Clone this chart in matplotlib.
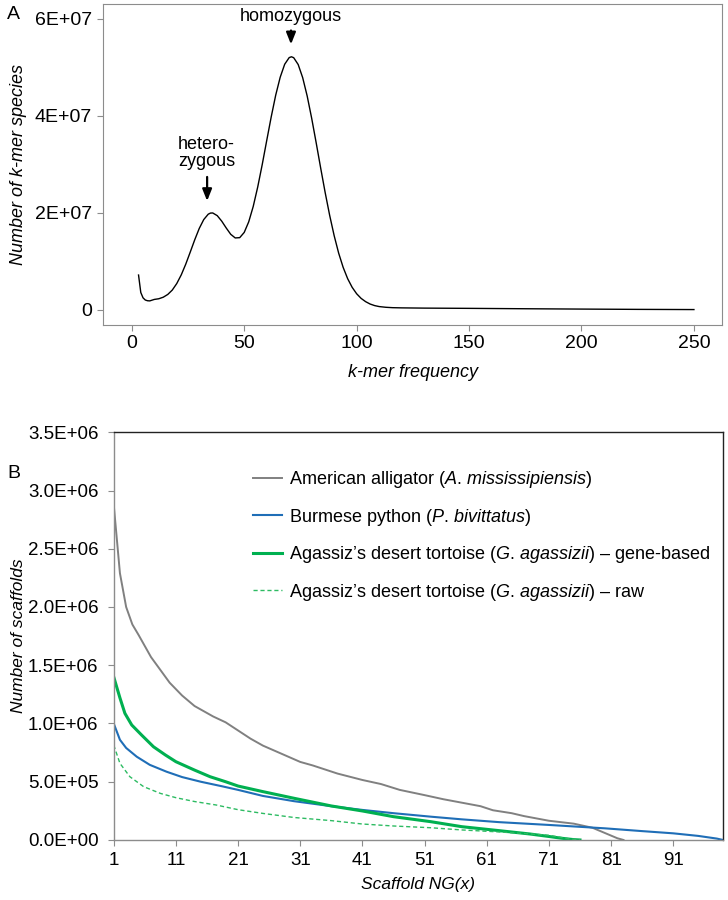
import numpy as np
import matplotlib
matplotlib.use("Agg")
import matplotlib.pyplot as plt

plt.rcParams["font.family"] = ["Liberation Sans", "DejaVu Sans"]
plt.rcParams["mathtext.fontset"] = "custom"
plt.rcParams["mathtext.rm"] = "Liberation Sans"
plt.rcParams["mathtext.it"] = "Liberation Sans:italic"

# ---- panel A: k-mer frequency spectrum ----
kmer_freq = [3, 4, 5, 6, 7, 8, 10, 12, 14, 16, 18, 20, 22, 24, 26, 28, 30, 32, 34, 35, 36,
             38, 40, 42, 44, 46, 48, 50, 52, 54, 56, 58, 60, 62, 64, 66, 68, 70, 71, 72,
             74, 76, 78, 80, 82, 84, 86, 88, 90, 92, 94, 96, 98, 100, 102, 104, 106, 108,
             110, 113, 116, 120, 130, 150, 175, 200, 225, 250]
kmer_count = [7.2e6, 3.6e6, 2.5e6, 2.05e6, 1.9e6, 1.87e6, 2.17e6, 2.31e6, 2.63e6, 3.2e6,
              4.1e6, 5.45e6, 7.24e6, 9.45e6, 11.94e6, 14.48e6, 16.81e6, 18.64e6, 19.75e6,
              19.98e6, 20.0e6, 19.45e6, 18.31e6, 16.9e6, 15.6e6, 14.85e6, 14.91e6, 15.99e6,
              18.17e6, 21.34e6, 25.35e6, 29.97e6, 34.92e6, 39.8e6, 44.29e6, 47.99e6,
              50.67e6, 52.04e6, 52.21e6, 52.02e6, 50.61e6, 47.9e6, 44.12e6, 39.53e6,
              34.48e6, 29.27e6, 24.21e6, 19.51e6, 15.32e6, 11.72e6, 8.78e6, 6.45e6, 4.67e6,
              3.34e6, 2.38e6, 1.71e6, 1.22e6, 0.9e6, 0.7e6, 0.55e6, 0.47e6, 0.43e6, 0.38e6,
              0.33e6, 0.25e6, 0.18e6, 0.12e6, 0.08e6]
a_xticks = [0, 50, 100, 150, 200, 250]
a_yticks = [0, 2e7, 4e7, 6e7]
a_yticklabels = ["0", "2E+07", "4E+07", "6E+07"]

# ---- panel B: scaffold NG(x) ----
alligator_x = [1, 2, 3, 4, 5, 7, 8.5, 10, 12, 14, 17, 19, 21, 23, 25, 28, 31, 33, 37, 41,
               44, 47, 51, 54, 57, 60, 62, 65, 67, 71, 75, 78, 80, 82, 83]
alligator_y = [2.88e6, 2.29e6, 2.0e6, 1.85e6, 1.76e6, 1.57e6, 1.46e6, 1.35e6, 1.24e6,
               1.15e6, 1.06e6, 1.01e6, 0.94e6, 0.87e6, 0.81e6, 0.74e6, 0.67e6, 0.64e6,
               0.57e6, 0.515e6, 0.48e6, 0.43e6, 0.385e6, 0.35e6, 0.32e6, 0.29e6, 0.255e6,
               0.23e6, 0.205e6, 0.165e6, 0.14e6, 0.105e6, 0.06e6, 0.015e6, 0.0]
python_x = [1, 2, 3, 4.7, 6.8, 9.5, 12, 15, 18.5, 21, 25, 30, 36, 41, 46, 52, 57, 63, 71,
            80, 86, 91, 95, 98, 99]
python_y = [1.0e6, 0.86e6, 0.79e6, 0.715e6, 0.645e6, 0.586e6, 0.54e6, 0.5e6, 0.46e6,
            0.43e6, 0.378e6, 0.333e6, 0.29e6, 0.258e6, 0.23e6, 0.2e6, 0.177e6, 0.153e6,
            0.129e6, 0.1e6, 0.076e6, 0.057e6, 0.035e6, 0.012e6, 0.0]
gene_x = [1, 2, 2.8, 3.9, 5.5, 7.4, 9.3, 11, 14, 16.5, 19, 21, 25, 30, 36, 41, 46, 52, 57,
          63, 68, 71, 73, 75, 76]
gene_y = [1.40e6, 1.22e6, 1.087e6, 0.987e6, 0.9e6, 0.8e6, 0.73e6, 0.672e6, 0.6e6, 0.543e6,
          0.5e6, 0.463e6, 0.415e6, 0.358e6, 0.292e6, 0.249e6, 0.2e6, 0.157e6, 0.114e6,
          0.08e6, 0.051e6, 0.03e6, 0.015e6, 0.003e6, 0.0]
raw_x = [1, 2, 3.6, 5.8, 8.5, 11, 14, 17.5, 21, 25, 30, 36, 41, 46, 52, 57, 63, 68, 71, 74, 76]
raw_y = [0.815e6, 0.658e6, 0.543e6, 0.458e6, 0.4e6, 0.363e6, 0.33e6, 0.3e6, 0.26e6,
         0.228e6, 0.193e6, 0.166e6, 0.137e6, 0.12e6, 0.105e6, 0.086e6, 0.069e6, 0.052e6,
         0.04e6, 0.012e6, 0.0]
b_xticks = [1, 11, 21, 31, 41, 51, 61, 71, 81, 91]
b_yticks = [0, 0.5e6, 1.0e6, 1.5e6, 2.0e6, 2.5e6, 3.0e6, 3.5e6]
b_yticklabels = ["0.0E+00", "5.0E+05", "1.0E+06", "1.5E+06", "2.0E+06", "2.5E+06",
                 "3.0E+06", "3.5E+06"]
labels = [r"American alligator ($\mathit{A.\,mississipiensis}$)",
          r"Burmese python ($\mathit{P.\,bivittatus}$)",
          r"Agassiz’s desert tortoise ($\mathit{G.\,agassizii}$) – gene-based",
          r"Agassiz’s desert tortoise ($\mathit{G.\,agassizii}$) – raw"]

spine_grey = "#8c8c8c"
fig = plt.figure(figsize=(7.28, 9.0), dpi=100)

# panel A
ax1 = fig.add_axes([0.1415, 0.6389, 0.8503, 0.3567])
ax1.plot(kmer_freq, kmer_count, color="black", lw=1.0)
ax1.set_xlim(-12.8, 262.5)
ax1.set_ylim(-3.1e6, 6.31e7)
ax1.set_xticks(a_xticks)
ax1.set_yticks(a_yticks)
ax1.set_yticklabels(a_yticklabels)
for s in ax1.spines.values():
    s.set_color(spine_grey)
ax1.tick_params(colors=spine_grey, labelcolor="black", labelsize=14, length=4)
ax1.tick_params(axis="x", pad=3)
ax1.tick_params(axis="y", pad=4)
ax1.set_xlabel("k-mer frequency", fontsize=13, style="italic")
ax1.set_ylabel("Number of k-mer species", fontsize=13, style="italic")
ax1.xaxis.set_label_coords(0.5, -0.12)
ax1.yaxis.set_label_coords(-0.123, 0.5)
arrow = dict(arrowstyle="-|>,head_length=0.7,head_width=0.28", color="black", lw=1.6)
ax1.annotate("", xy=(70.8, 5.42e7), xytext=(70.8, 5.82e7), arrowprops=arrow)
ax1.text(70.8, 6.06e7, "homozygous", ha="center", va="center", fontsize=13)
ax1.annotate("", xy=(33.5, 2.19e7), xytext=(33.5, 2.8e7), arrowprops=arrow)
ax1.text(33.3, 3.24e7, "hetero-\nzygous", ha="center", va="center", fontsize=13,
         linespacing=1.0)
fig.text(0.010, 0.984, "A", fontsize=14, ha="left", va="center")

# panel B
ax2 = fig.add_axes([0.1562, 0.0667, 0.8369, 0.453])
ax2.plot(alligator_x, alligator_y, color="#808080", lw=1.4, label=labels[0])
ax2.plot(python_x, python_y, color="#1f6eb7", lw=1.5, label=labels[1])
ax2.plot(gene_x, gene_y, color="#00b050", lw=2.2, label=labels[2])
ax2.plot(raw_x, raw_y, color="#2dbb62", lw=1.0, ls=(0, (3, 2)), label=labels[3])
ax2.set_xlim(1, 99)
ax2.set_ylim(0, 3.5e6)
ax2.set_xticks(b_xticks)
ax2.set_yticks(b_yticks)
ax2.set_yticklabels(b_yticklabels)
ax2.spines["left"].set_color(spine_grey)
ax2.spines["bottom"].set_color(spine_grey)
ax2.spines["top"].set_color("#222222")
ax2.spines["right"].set_color("#222222")
for s in ax2.spines.values():
    s.set_linewidth(1.0)
ax2.tick_params(colors=spine_grey, labelcolor="black", labelsize=13.5, length=4)
ax2.tick_params(axis="y", pad=7)
ax2.tick_params(axis="x", pad=5)
ax2.set_xlabel("Scaffold NG(x)", fontsize=12.5, style="italic")
ax2.set_ylabel("Number of scaffolds", fontsize=12.5, style="italic")
ax2.xaxis.set_label_coords(0.5, -0.09)
ax2.yaxis.set_label_coords(-0.144, 0.5)
ax2.legend(loc="upper left", bbox_to_anchor=(0.2286, 0.91), frameon=False,
           fontsize=13, handlelength=1.6, handletextpad=0.4, labelspacing=0.92,
           borderaxespad=0, borderpad=0)
fig.text(0.010, 0.474, "B", fontsize=14, ha="left", va="center")

fig.savefig("out.png", dpi=100)
